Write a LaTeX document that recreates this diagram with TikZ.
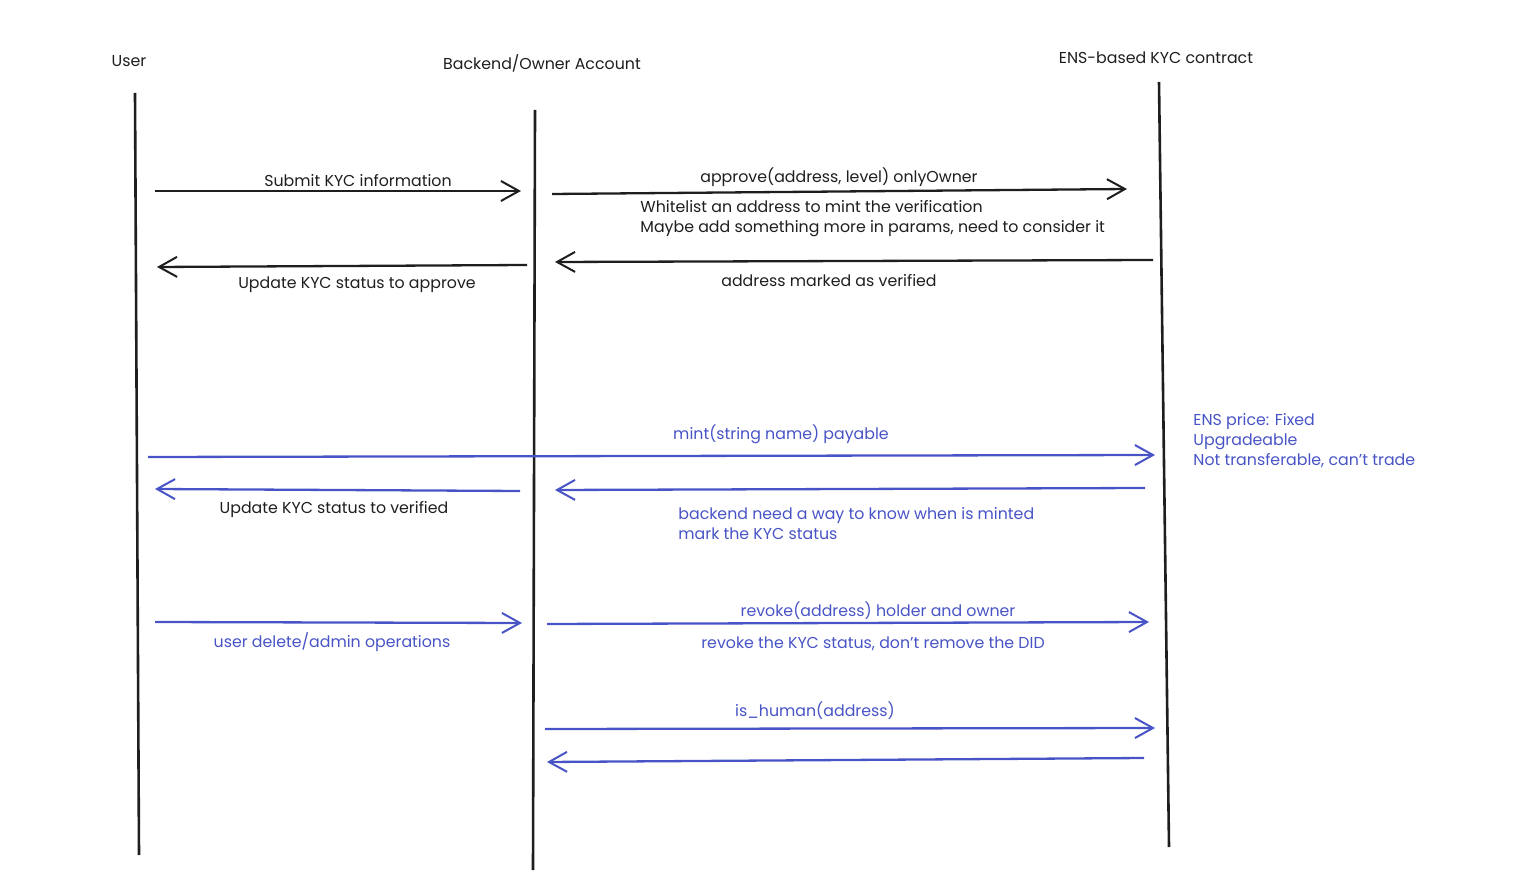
\documentclass[tikz,border=0pt]{standalone}
\usepackage{fontspec}
\setmainfont{Poppins}
\usetikzlibrary{arrows.meta}
\definecolor{inkblue}{RGB}{72,84,198}
\definecolor{inkblack}{RGB}{30,30,30}
\tikzset{
  lifeline/.style={draw=inkblack, line width=1.3pt},
  msg/.style={line width=1.15pt, -{Straight Barb[length=9pt,width=10pt,line width=1pt]}},
  blackmsg/.style={msg, draw=inkblack},
  bluemsg/.style={msg, draw=inkblue},
  lbl/.style={font=\fontsize{7.9}{10}\selectfont, inner sep=0pt},
  blacklbl/.style={lbl, text=inkblack},
  bluelbl/.style={lbl, text=inkblue},
}
\begin{document}
\begin{tikzpicture}[x=0.5pt,y=-0.5pt]
\useasboundingbox (0,0) rectangle (1520,892);
% headers
\node[blacklbl] (hUser) at (129,61) {User};
\node[blacklbl] (hBack) at (542,63) {Backend/Owner Account};
\node[blacklbl] (hEns) at (1156,58) {ENS-based KYC contract};
% lifelines
\coordinate (uT) at (135,93);  \coordinate (uB) at (139,855);
\coordinate (bT) at (535,110); \coordinate (bB) at (533,870);
\coordinate (eT) at (1159,82); \coordinate (eB) at (1169,847);
\draw[lifeline] (uT) -- (uB);
\draw[lifeline] (bT) -- (bB);
\draw[lifeline] (eT) -- (eB);
% message endpoints
\coordinate (m1a) at (155,191);  \coordinate (m1b) at (521,191);
\coordinate (m2a) at (552,194);  \coordinate (m2b) at (1127,189);
\coordinate (m3a) at (1153,260); \coordinate (m3b) at (555,262);
\coordinate (m4a) at (527,265);  \coordinate (m4b) at (157,267);
\coordinate (m5a) at (148,457);  \coordinate (m5b) at (1155,455);
\coordinate (m6a) at (1145,488); \coordinate (m6b) at (555,490);
\coordinate (m7a) at (520,491);  \coordinate (m7b) at (155,489);
\coordinate (m8a) at (155,622);  \coordinate (m8b) at (522,623);
\coordinate (m9a) at (547,624);  \coordinate (m9b) at (1149,622);
\coordinate (m10a) at (545,729); \coordinate (m10b) at (1155,728);
\coordinate (m11a) at (1144,758);\coordinate (m11b) at (547,762);
% black messages
\draw[blackmsg] (m1a) -- (m1b);
\draw[blackmsg] (m2a) -- (m2b);
\draw[blackmsg] (m3a) -- (m3b);
\draw[blackmsg] (m4a) -- (m4b);
% blue messages
\draw[bluemsg] (m5a) -- (m5b);
\draw[bluemsg] (m6a) -- (m6b);
\draw[bluemsg] (m7a) -- (m7b);
\draw[bluemsg] (m8a) -- (m8b);
\draw[bluemsg] (m9a) -- (m9b);
\draw[bluemsg] (m10a) -- (m10b);
\draw[bluemsg] (m11a) -- (m11b);
% labels
\node[blacklbl] (l1) at (358,181) {Submit KYC information};
\node[blacklbl] (l2) at (839,177) {approve(address, level) onlyOwner};
\node[blacklbl, anchor=west, align=left] (l2n) at (640,219) {Whitelist an address to mint the verification\\Maybe add something more in params, need to consider it};
\node[blacklbl] (l3) at (829,281) {address marked as verified};
\node[blacklbl] (l4) at (357,285) {Update KYC status to approve};
\node[bluelbl] (l5) at (781,434) {mint(string name) payable};
\node[bluelbl, anchor=west, align=left] (l6) at (678,524) {backend need a way to know when is minted\\mark the KYC status};
\node[blacklbl] (l7) at (334,510) {Update KYC status to verified};
\node[bluelbl] (l8) at (332,642) {user delete/admin operations};
\node[bluelbl] (l9) at (878,611) {revoke(address) holder and owner};
\node[bluelbl] (l9n) at (873,644) {revoke the KYC status, don't remove the DID};
\node[bluelbl] (l10) at (815,711) {is\_human(address)};
\node[bluelbl, anchor=west, align=left] (note) at (1193,441) {ENS price: Fixed\\Upgradeable\\Not transferable, can't trade};
\end{tikzpicture}
\end{document}
